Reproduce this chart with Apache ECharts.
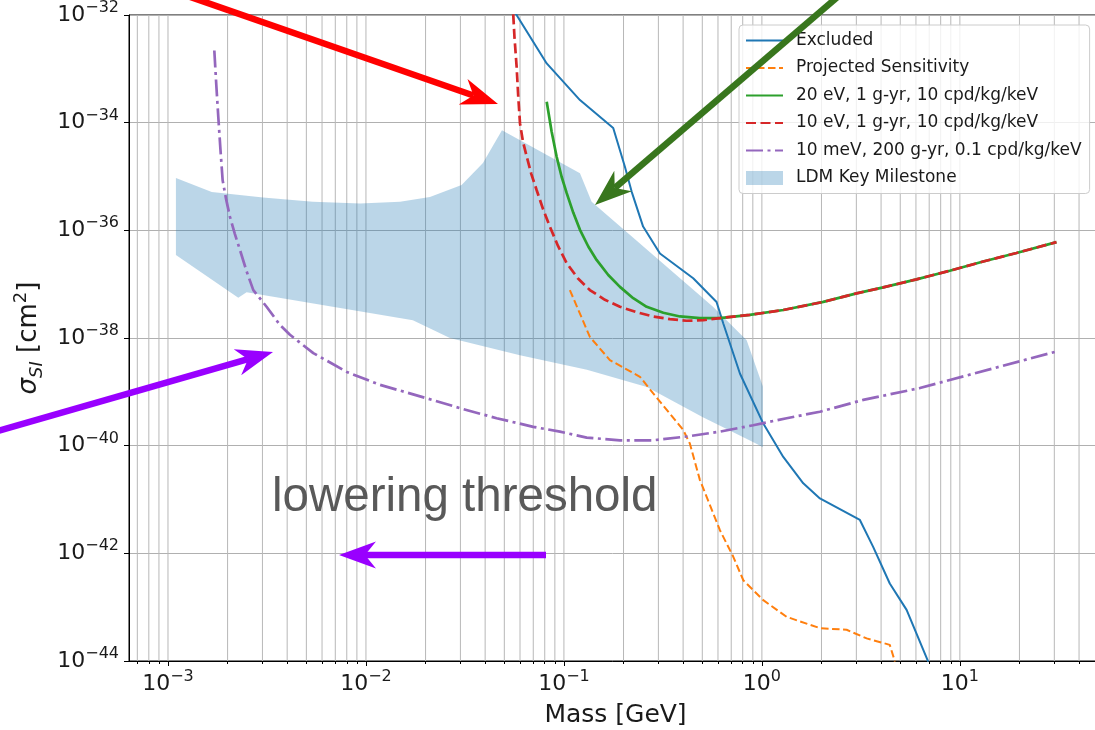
<!DOCTYPE html>
<html>
<head>
<meta charset="utf-8">
<title>LDM sensitivity</title>
<style>
html, body { margin: 0; padding: 0; width: 100%; height: 100%; background: #fff; }
#main { width: 1095px; height: 730px; }
</style>
</head>
<body>
<div id="main"></div>
<script src="https://cdn.jsdelivr.net/npm/echarts@6/dist/echarts.min.js"></script>
<script>
// every value is log10: x = log10(mass / GeV), y = log10(sigma / cm^2)
var xTicks = [-3, -2, -1, 0, 1];

var excludedX = [-1.29, -1.087, -0.919, -0.751, -0.692, -0.658, -0.600, -0.515, -0.347, -0.229, -0.195, -0.111, 0.007, 0.108, 0.209, 0.293, 0.495, 0.562, 0.646, 0.731, 0.840];
var excludedY = [-31.70, -32.90, -33.58, -34.10, -34.82, -35.28, -35.93, -36.43, -36.89, -37.33, -37.73, -38.66, -39.59, -40.21, -40.70, -40.98, -41.38, -41.88, -42.56, -43.05, -44.01];

var projX = [-0.970, -0.869, -0.768, -0.616, -0.549, -0.397, -0.364, -0.313, -0.212, -0.145, -0.094, 0.007, 0.125, 0.293, 0.428, 0.529, 0.646, 0.672];
var projY = [-37.11, -37.98, -38.41, -38.72, -39.03, -39.71, -39.96, -40.64, -41.57, -42.06, -42.50, -42.87, -43.18, -43.39, -43.42, -43.58, -43.70, -44.01];

var green20X = [-1.087, -1.062, -1.037, -1.012, -0.986, -0.953, -0.919, -0.877, -0.835, -0.776, -0.717, -0.650, -0.582, -0.498, -0.414, -0.313, -0.212, -0.061, 0.108, 0.310, 0.478, 0.613, 0.781, 0.949, 1.118, 1.286, 1.488];
var green20Y = [-33.61, -34.17, -34.63, -35.00, -35.31, -35.67, -35.99, -36.30, -36.55, -36.83, -37.05, -37.26, -37.42, -37.53, -37.60, -37.63, -37.63, -37.57, -37.48, -37.33, -37.17, -37.06, -36.91, -36.75, -36.58, -36.42, -36.22];

var red10X = [-1.260, -1.250, -1.239, -1.231, -1.222, -1.207, -1.188, -1.165, -1.138, -1.106, -1.071, -1.030, -0.986, -0.930, -0.869, -0.793, -0.717, -0.633, -0.549, -0.465, -0.380, -0.296, -0.212, -0.061, 0.108, 0.310, 0.478, 0.613, 0.781, 0.949, 1.118, 1.286, 1.488];
var red10Y = [-31.72, -32.40, -32.96, -33.50, -34.01, -34.35, -34.63, -34.95, -35.25, -35.60, -35.93, -36.29, -36.61, -36.89, -37.11, -37.29, -37.42, -37.52, -37.60, -37.65, -37.68, -37.67, -37.63, -37.57, -37.48, -37.33, -37.17, -37.06, -36.91, -36.75, -36.58, -36.42, -36.22];

var mevX = [-2.766, -2.756, -2.746, -2.735, -2.724, -2.706, -2.687, -2.662, -2.636, -2.603, -2.569, -2.502, -2.434, -2.384, -2.266, -2.097, -1.929, -1.693, -1.509, -1.340, -1.155, -1.020, -0.885, -0.717, -0.549, -0.380, -0.212, -0.044, 0.125, 0.293, 0.512, 0.798, 0.949, 1.488];
var mevY = [-32.66, -33.30, -33.89, -34.50, -35.07, -35.43, -35.75, -36.07, -36.37, -36.76, -37.11, -37.42, -37.76, -37.94, -38.28, -38.63, -38.87, -39.12, -39.32, -39.49, -39.65, -39.74, -39.85, -39.90, -39.90, -39.83, -39.74, -39.62, -39.49, -39.37, -39.15, -38.93, -38.78, -38.25];

var bandUpperX = [-2.960, -2.779, -2.520, -2.268, -2.030, -1.828, -1.677, -1.517, -1.409, -1.313, -0.919, -0.860, -0.247, -0.077, 0.005];
var bandUpperY = [-35.03, -35.29, -35.39, -35.47, -35.50, -35.47, -35.38, -35.16, -34.75, -34.14, -34.94, -35.47, -37.42, -38.04, -38.90];
var bandLowerX = [-2.960, -2.645, -2.603, -1.763, -1.576, -1.222, -0.884, -0.581, -0.298, -0.035, 0.005];
var bandLowerY = [-36.46, -37.25, -37.15, -37.67, -38.00, -38.32, -38.59, -38.91, -39.47, -39.95, -40.03];

var X_MIN = -3.197, X_MAX = 1.718;

function pairs(xs, ys) {
    return xs.map(function (x, i) { return [x, ys[i]]; });
}

// vertical grid lines at k * 10^n (log axis style)
var gridX = [];
for (var n = -4; n <= 1; n++) {
    for (var k = 1; k <= 9; k++) {
        var v = n + Math.log10(k);
        if (v > X_MIN && v < X_MAX) gridX.push(v);
    }
}
var minorX = gridX.filter(function (v) { return Math.abs(v - Math.round(v)) > 1e-9; });

function pow10(v) {
    return '{b|10}{s|' + (v < 0 ? '\u2212' + (-v) : v) + '}';
}

var FONT = 'DejaVu Sans';
var tickRich = {
    b: { fontFamily: FONT, fontSize: 22, lineHeight: 30, color: '#1a1a1a' },
    s: { fontFamily: FONT, fontSize: 16, lineHeight: 16, verticalAlign: 'top', color: '#1a1a1a' }
};

function arrow(a, color) {
    var x1 = a[0], y1 = a[1], x2 = a[2], y2 = a[3];
    var dx = x2 - x1, dy = y2 - y1, len = Math.sqrt(dx * dx + dy * dy);
    var ux = dx / len, uy = dy / len, nx = -uy, ny = ux;
    var L = 37, H = 13.5, N = 26;
    var bx = x2 - ux * L, by = y2 - uy * L;
    var cx = x2 - ux * N, cy = y2 - uy * N;
    return [
        { type: 'line', z: 100, shape: { x1: x1, y1: y1, x2: cx, y2: cy }, style: { stroke: color, lineWidth: 6.5 } },
        { type: 'polygon', z: 100, shape: { points: [[x2, y2], [bx + nx * H, by + ny * H], [cx, cy], [bx - nx * H, by - ny * H]] }, style: { fill: color } }
    ];
}

var annotations = [
    { from: [176, -8, 498, 104], color: '#ff0000' },
    { from: [848, -12, 595, 205], color: '#38761d' },
    { from: [-6, 432, 273, 352], color: '#9900ff' },
    { from: [546, 555, 339, 555], color: '#9900ff' }
];
var graphics = [];
annotations.forEach(function (a) { graphics = graphics.concat(arrow(a.from, a.color)); });
graphics.push({
    type: 'text', z: 100, x: 272, y: 498,
    style: { text: 'lowering threshold', font: '47.5px "Liberation Sans", Arial, sans-serif', fill: '#595959', verticalAlign: 'middle', textVerticalAlign: 'middle' }
});

var myChart = echarts.init(document.getElementById('main'));

var options = {
    animation: false,
    backgroundColor: '#fff',
    grid: { left: 129, right: -7, top: 15, bottom: 69, show: true, borderColor: '#000', borderWidth: 1, outerBoundsMode: 'none' },
    legend: {
        orient: 'vertical', left: 739, top: 25,
        padding: [7, 8, 7, 6], itemWidth: 37, itemHeight: 14, itemGap: 10.5,
        backgroundColor: 'rgba(255,255,255,0.8)', borderColor: '#cccccc', borderWidth: 1, borderRadius: 4,
        textStyle: { fontFamily: FONT, fontSize: 17, color: '#1a1a1a', padding: [0, 0, 0, 8] },
        data: [
            { name: 'Excluded', itemStyle: { opacity: 0 } },
            { name: 'Projected Sensitivity', itemStyle: { opacity: 0 } },
            { name: '20 eV, 1 g-yr, 10 cpd/kg/keV', itemStyle: { opacity: 0 } },
            { name: '10 eV, 1 g-yr, 10 cpd/kg/keV', itemStyle: { opacity: 0 } },
            { name: '10 meV, 200 g-yr, 0.1 cpd/kg/keV', itemStyle: { opacity: 0 } },
            { name: 'LDM Key Milestone', icon: 'rect' }
        ]
    },
    xAxis: [
        {
            type: 'value', min: X_MIN, max: X_MAX, position: 'bottom',
            name: 'Mass [GeV]', nameLocation: 'middle', nameGap: 42,
            nameTextStyle: { fontFamily: FONT, fontSize: 25, color: '#1a1a1a' },
            axisLine: { show: true, onZero: false, lineStyle: { color: '#000', width: 1 } },
            axisTick: { show: true, length: 5, customValues: xTicks, lineStyle: { color: '#000' } },
            axisLabel: { customValues: xTicks, margin: 8, formatter: function (v) { return pow10(Math.round(v)); }, rich: tickRich },
            splitLine: { show: false }
        },
        {
            type: 'value', min: X_MIN, max: X_MAX, position: 'bottom', offset: 0,
            axisLine: { show: false, onZero: false },
            axisTick: { show: true, length: 3, customValues: minorX, lineStyle: { color: '#000' } },
            axisLabel: { show: false },
            splitLine: { show: false }
        }
    ],
    yAxis: {
        type: 'value', min: -44, max: -32, interval: 2,
        name: '{g|\u03c3}{sub|SI}{t| [cm}{sup|2}{t|]}', nameLocation: 'middle', nameGap: 82, nameRotate: 90,
        nameTextStyle: {
            rich: {
                g: { fontFamily: FONT, fontSize: 26, fontStyle: 'italic', lineHeight: 34, color: '#1a1a1a' },
                t: { fontFamily: FONT, fontSize: 26, lineHeight: 34, color: '#1a1a1a' },
                sub: { fontFamily: FONT, fontSize: 18, fontStyle: 'italic', lineHeight: 18, verticalAlign: 'bottom', color: '#1a1a1a' },
                sup: { fontFamily: FONT, fontSize: 18, lineHeight: 18, verticalAlign: 'top', color: '#1a1a1a' }
            }
        },
        axisLine: { show: true, onZero: false, lineStyle: { color: '#000', width: 1 } },
        axisTick: { show: true, length: 5, lineStyle: { color: '#000' } },
        axisLabel: { margin: 10, formatter: function (v) { return pow10(Math.round(v)); }, rich: tickRich },
        splitLine: { show: true, lineStyle: { color: '#b0b0b0', width: 1 } }
    },
    graphic: { elements: graphics },
    series: [
        {
            type: 'custom', name: 'grid', silent: true, z: 0,
            data: gridX.map(function (v) { return [v, -44]; }),
            renderItem: function (params, api) {
                var p1 = api.coord([api.value(0), -44]);
                var p2 = api.coord([api.value(0), -32]);
                return { type: 'line', shape: { x1: p1[0], y1: p1[1], x2: p2[0], y2: p2[1] }, style: { stroke: '#b8b8b8', lineWidth: 1 } };
            }
        },
        {
            type: 'custom', name: 'LDM Key Milestone', silent: true, z: 1,
            itemStyle: { color: 'rgba(31,119,180,0.3)' },
            data: [[bandUpperX[0], bandUpperY[0]]],
            renderItem: function (params, api) {
                var pts = pairs(bandUpperX, bandUpperY).concat(pairs(bandLowerX, bandLowerY).reverse())
                    .map(function (p) { return api.coord(p); });
                return { type: 'polygon', shape: { points: pts }, style: { fill: 'rgba(31,119,180,0.3)' } };
            }
        },
        {
            name: 'Excluded', type: 'line', z: 3, symbol: 'none', data: pairs(excludedX, excludedY),
            itemStyle: { color: '#1f77b4' }, lineStyle: { color: '#1f77b4', width: 2 }
        },
        {
            name: 'Projected Sensitivity', type: 'line', z: 3, symbol: 'none', data: pairs(projX, projY),
            itemStyle: { color: '#ff7f0e' }, lineStyle: { color: '#ff7f0e', width: 2, type: [7.5, 3.5] }
        },
        {
            name: '20 eV, 1 g-yr, 10 cpd/kg/keV', type: 'line', z: 3, symbol: 'none',
            data: pairs(green20X, green20Y),
            itemStyle: { color: '#2ca02c' }, lineStyle: { color: '#2ca02c', width: 2.7 }
        },
        {
            name: '10 eV, 1 g-yr, 10 cpd/kg/keV', type: 'line', z: 4, symbol: 'none',
            data: pairs(red10X, red10Y),
            itemStyle: { color: '#d62728' }, lineStyle: { color: '#d62728', width: 2.7, type: [10, 4.5] }
        },
        {
            name: '10 meV, 200 g-yr, 0.1 cpd/kg/keV', type: 'line', z: 4, symbol: 'none',
            data: pairs(mevX, mevY),
            itemStyle: { color: '#9467bd' }, lineStyle: { color: '#9467bd', width: 2.7, type: [17, 4.5, 3, 4.5] }
        }
    ]
};

myChart.setOption(options);
</script>
</body>
</html>
